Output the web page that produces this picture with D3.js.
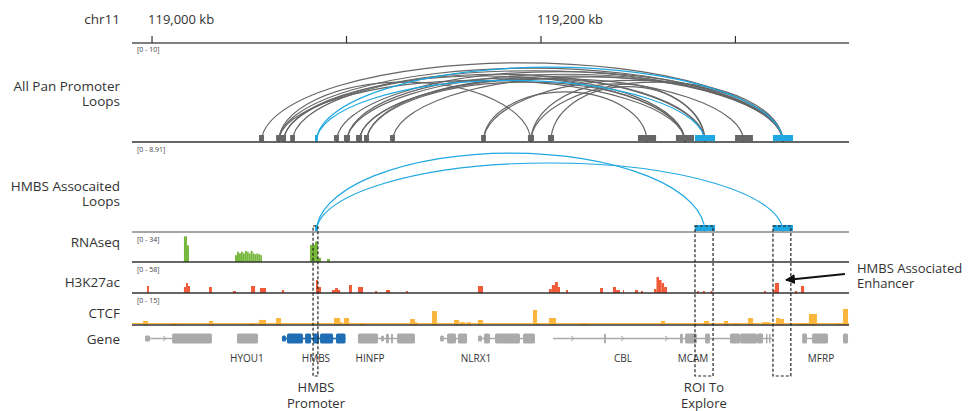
<!DOCTYPE html>
<html>
<head>
<meta charset="utf-8">
<script src="https://cdn.jsdelivr.net/npm/d3@7"></script>
<style>
body{margin:0;background:#fff;}
svg text{font-family:"Open Sans",sans-serif;fill:#333;}
</style>
</head>
<body>
<svg width="968" height="411"></svg>
<script>
'use strict';

// genomic window, chr11 (kb)
var region = [118989.7, 119358.4];
var rulerTicks = [119000, 119100, 119200, 119300];
var rulerLabels = [119000, 119200];

// All Pan Promoter Loops [0 - 10]
var panAnchors = [
	[119055.0,119057.6],[119063.8,119066.3],[119066.3,119068.9],[119071.0,119073.5],
	[119093.6,119096.1],[119098.7,119101.8],[119104.9,119108.0],[119109.0,119111.6],
	[119122.4,119124.9],[119169.2,119171.7],[119193.3,119196.4],[119203.6,119206.7],
	[119249.9,119259.2],[119269.4,119278.7],[119299.8,119309.0]
];
var panHmbsAnchors = [[119083.8,119085.3],[119279.2,119289.5],[119319.3,119329.6]];
var panLoops = [
	[119056.3,119324.4,9.0],[119065.1,119324.4,8.4],[119067.6,119324.4,8.1],
	[119065.1,119194.8,6.8],[119067.6,119274.0,7.5],[119065.1,119274.0,7.0],
	[119072.2,119284.3,7.7],[119094.9,119324.4,8.0],[119100.2,119274.0,7.3],
	[119100.2,119324.4,7.7],[119106.5,119304.4,7.2],[119106.5,119324.4,7.5],
	[119110.3,119274.0,6.8],[119110.3,119284.3,7.2],[119123.6,119324.4,7.4],
	[119170.4,119254.5,5.7],[119170.4,119324.4,7.0],[119194.8,119284.3,6.6],
	[119194.8,119324.4,6.8],[119205.1,119284.3,6.3]
];
var panHmbsLoops = [[119084.5,119324.4,8.5],[119084.5,119284.3,7.0]];

// HMBS Assocaited Loops [0 - 8.91]
var hmbsAnchors = [[119083.8,119085.3],[119279.2,119289.5],[119319.3,119329.6]];
var hmbsLoops = [[119084.5,119284.3,8.91],[119084.5,119324.4,7.78]];

// signal tracks [start kb, end kb, value]
var rnaseq = [
	[119016.4,119018.0,30],[119018.0,119019.0,19.5],
	[119042.7,119043.7,8],[119043.7,119044.7,12],[119044.7,119045.7,10],[119045.7,119046.7,12],
	[119046.7,119047.7,10],[119047.7,119048.7,13],[119048.7,119049.7,12],[119049.7,119050.7,10],
	[119050.7,119051.7,13],[119051.7,119052.7,10],[119052.7,119053.7,9],[119053.7,119054.7,10],
	[119054.7,119055.7,9],[119055.7,119056.5,8],
	[119081.2,119083.8,20],[119083.8,119085.3,24],[119085.3,119086.9,5],
	[119090.0,119091.5,3.5]
];
var h3k27ac = [
	[118997.4,118998.4,14],[119016.4,119017.5,12],[119017.5,119018.5,20],[119018.5,119019.5,14],
	[119029.3,119030.8,12],[119041.6,119043.2,4],[119050.9,119053.0,14],[119055.5,119058.6,10],
	[119066.8,119067.9,6],[119084.3,119085.3,26],[119085.3,119086.9,12],
	[119092.5,119094.1,6],[119094.1,119095.6,10],[119095.6,119096.7,6],
	[119101.3,119102.8,16],[119105.9,119108.5,12],[119114.7,119115.7,4],[119120.3,119122.4,6],
	[119130.6,119131.6,4],[119167.6,119170.2,14],
	[119204.1,119205.6,8],[119205.6,119207.2,16],[119207.2,119208.7,22],[119208.7,119209.8,12],
	[119212.9,119213.9,6],[119230.4,119231.9,10],[119237.0,119238.6,12],[119238.6,119240.6,6],
	[119242.2,119242.7,6],[119248.4,119249.9,6],[119251.4,119252.5,4],
	[119258.1,119259.4,8],[119259.4,119260.7,32],[119260.7,119262.0,26],[119262.0,119263.3,20],
	[119263.3,119264.8,12],[119280.2,119281.2,4],[119283.3,119284.3,4],[119287.2,119288.2,4],
	[119314.7,119315.7,4],[119319.3,119320.3,6],[119320.3,119322.4,20],[119330.6,119331.7,4],
	[119333.7,119335.3,14]
];
var ctcf = [
	[118995.4,118997.9,2.1],[119010.3,119012.8,1.0],[119029.3,119031.4,2.1],[119050.4,119053.0,1.0],
	[119055.0,119058.6,2.6],[119063.8,119066.3,3.6],[119093.6,119096.7,3.6],[119096.7,119097.7,1.5],
	[119098.7,119101.3,3.6],[119106.9,119109.0,1.0],[119132.7,119135.2,3.1],[119135.2,119136.3,1.5],
	[119144.0,119146.5,7.2],[119155.3,119157.9,2.6],[119158.4,119160.9,1.5],[119162.0,119164.0,1.5],
	[119167.6,119170.2,2.6],[119195.9,119198.0,7.8],[119198.0,119199.5,1.0],[119204.1,119207.7,3.6],
	[119221.1,119223.2,1.0],[119261.7,119263.8,2.1],[119278.2,119280.2,1.0],[119283.8,119286.4,2.1],
	[119294.1,119296.2,2.1],[119298.8,119301.3,1.0],[119306.5,119309.0,3.6],[119313.7,119317.8,1.5],
	[119320.9,119322.9,3.6],[119322.9,119325.0,3.1],[119332.2,119337.8,1.0],[119337.8,119341.9,5.7],
	[119352.7,119354.8,1.0],[119355.3,119357.9,8.3]
];

// gene track
var geneLines = [
	[118999.0,119010.3],[119066.8,119098.2],[119105.9,119135.2],[119148.1,119162.0],
	[119167.6,119196.9],[119206.2,119318.8],[119336.8,119339.4]
];
var geneThin = [
	[118996.4,118999.0],[119117.7,119119.3],[119148.1,119150.1],[119167.6,119169.7]
];
var geneThick = [
	[119010.3,119030.8],[119043.7,119054.5],[119105.9,119116.2],[119120.3,119121.8],
	[119122.9,119123.9],[119126.0,119135.2],[119151.7,119156.3],[119157.3,119162.0],
	[119170.7,119173.8],[119176.4,119189.2],[119190.8,119196.9],[119232.4,119233.4],
	[119271.5,119273.0],[119274.1,119280.2],[119284.4,119286.9],[119297.2,119302.4],
	[119302.4,119311.1],[119311.1,119314.2],[119315.7,119316.2],[119317.3,119317.8],
	[119334.3,119336.8],[119339.4,119347.6],[119355.3,119357.9]
];
var hmbsThin = [[119066.8,119068.9]];
var hmbsThick = [
	[119069.4,119077.6],[119078.7,119081.8],[119082.8,119085.9],[119086.4,119093.1],[119094.6,119099.5]
];
var strandArrows = [119006.7, 119216.5, 119242.2, 119264.8];
var geneNames = ["HYOU1", "HMBS", "HINFP", "NLRX1", "CBL", "MCAM", "MFRP"];
var geneNamePos = [119048.8, 119084.3, 119112.1, 119166.6, 119242.2, 119278.2, 119344.0];

// regions of interest (dashed boxes)
var roiBoxes = [[119082.8,119085.3],[119279.2,119288.5],[119319.3,119328.5]];
var enhancerArrow = [119356.3, 119326.0];

var svg = d3.select("svg");
var x = d3.scaleLinear().domain(region).range([132, 849]);
var grey = "#666666", blue = "#1ea7e1";

function label(lines, y0) {
	var t = svg.append("text").attr("text-anchor", "end").style("font-size", "13.5px");
	lines.forEach(function(l, i) {
		t.append("tspan").attr("x", 120).attr("y", y0 + i * 15).text(l);
	});
}
function range(txt, y) {
	svg.append("text").attr("x", 137).attr("y", y).style("font-size", "7px").style("fill", "#444").text(txt);
}
function baseline(y, col, w) {
	svg.append("line").attr("x1", 132).attr("x2", 849).attr("y1", y).attr("y2", y)
		.attr("stroke", col).attr("stroke-width", w);
}

// ruler
label(["chr11"], 24);
svg.append("line").attr("x1", 132).attr("x2", 849).attr("y1", 43).attr("y2", 43)
	.attr("stroke", "#555").attr("stroke-width", 1.5);
svg.selectAll(".tick").data(rulerTicks).enter().append("line")
	.attr("x1", function(d) { return x(d); }).attr("x2", function(d) { return x(d); })
	.attr("y1", 36).attr("y2", 43).attr("stroke", "#333").attr("stroke-width", 1.2);
svg.selectAll(".rlab").data(rulerLabels).enter().append("text")
	.attr("x", function(d) { return x(d) - 4; }).attr("y", 24)
	.style("font-size", "13px")
	.text(function(d) { return d3.format(",")(d) + " kb"; });

// loop tracks
function arc(d, base, ys) {
	var x1 = x(d[0]), x2 = x(d[1]), h = base - ys(d[2]);
	return "M" + x1 + "," + base + " A" + (x2 - x1) / 2 + "," + h + " 0 0 1 " + x2 + "," + base;
}
function loops(data, base, ys, col) {
	svg.append("g").selectAll("path").data(data).enter().append("path")
		.attr("d", function(d) { return arc(d, base, ys); })
		.attr("fill", "none").attr("stroke", col).attr("stroke-width", 1.2);
}
function anchors(data, base, col) {
	svg.append("g").selectAll("rect").data(data).enter().append("rect")
		.attr("x", function(d) { return x(d[0]); })
		.attr("width", function(d) { return Math.max(2, x(d[1]) - x(d[0])); })
		.attr("y", base - 7).attr("height", 6).attr("fill", col);
}

label(["All Pan Promoter", "Loops"], 91);
range("[0 - 10]", 52);
var y1 = d3.scaleLinear().domain([0, 10]).range([142, 54]);
loops(panLoops, 142, y1, grey);
loops(panHmbsLoops, 142, y1, blue);
anchors(panAnchors, 142, grey);
anchors(panHmbsAnchors, 142, blue);
baseline(142, "#333", 1.5);

label(["HMBS Assocaited", "Loops"], 191);
range("[0 - 8.91]", 152);
var y2 = d3.scaleLinear().domain([0, 8.91]).range([232, 153]);
loops(hmbsLoops, 232, y2, blue);
anchors(hmbsAnchors, 232, blue);
baseline(232, "#888", 1.5);

// signal tracks
function bars(data, max, base, col) {
	var ys = d3.scaleLinear().domain([0, max]).range([base, base - 29]);
	svg.append("g").selectAll("rect").data(data).enter().append("rect")
		.attr("x", function(d) { return x(d[0]); })
		.attr("width", function(d) { return Math.max(1, x(d[1]) - x(d[0])); })
		.attr("y", function(d) { return ys(d[2]); })
		.attr("height", function(d) { return base - ys(d[2]); })
		.attr("fill", col);
}
label(["RNAseq"], 247);
range("[0 - 34]", 242);
bars(rnaseq, 34, 262, "#76b83c");
baseline(262, "#333", 1.5);

label(["H3K27ac"], 287);
range("[0 - 58]", 272);
bars(h3k27ac, 58, 293, "#f05a38");
baseline(293, "#333", 1.5);

label(["CTCF"], 318);
range("[0 - 15]", 303);
bars(ctcf, 15, 325, "#fbb43c");
baseline(323.5, "#fbb43c", 1);
baseline(325, "#333", 1.5);

// genes
label(["Gene"], 344);
var gy = 338.5;
function segs(data, h, col) {
	svg.append("g").selectAll("rect").data(data).enter().append("rect")
		.attr("x", function(d) { return x(d[0]); })
		.attr("width", function(d) { return Math.max(1.5, x(d[1]) - x(d[0])); })
		.attr("y", gy - h / 2).attr("height", h).attr("rx", 1.5).attr("fill", col);
}
svg.append("g").selectAll("line").data(geneLines).enter().append("line")
	.attr("x1", function(d) { return x(d[0]); }).attr("x2", function(d) { return x(d[1]); })
	.attr("y1", gy).attr("y2", gy).attr("stroke", "#aaa").attr("stroke-width", 1.5);
svg.append("line").attr("x1", x(hmbsThin[0][0])).attr("x2", x(hmbsThick[4][1]))
	.attr("y1", gy).attr("y2", gy).attr("stroke", "#1f6db4").attr("stroke-width", 1.5);
svg.append("g").selectAll("path").data(strandArrows).enter().append("path")
	.attr("d", function(d) { return "M" + (x(d) - 2) + "," + (gy - 2.5) + " L" + (x(d) + 1) + "," + gy + " L" + (x(d) - 2) + "," + (gy + 2.5); })
	.attr("fill", "none").attr("stroke", "#aaa").attr("stroke-width", 1);
segs(geneThin, 6, "#aaa");
segs(geneThick, 10, "#aaa");
segs(hmbsThin, 6, "#1f6db4");
segs(hmbsThick, 10, "#1f6db4");
svg.selectAll(".gname").data(geneNames).enter().append("text")
	.attr("x", function(d, i) { return x(geneNamePos[i]); }).attr("y", 362)
	.attr("text-anchor", "middle").style("font-size", "10px")
	.text(function(d) { return d; });

// dashed ROI boxes
svg.append("g").selectAll("rect").data(roiBoxes).enter().append("rect")
	.attr("x", function(d) { return x(d[0]); })
	.attr("width", function(d) { return x(d[1]) - x(d[0]); })
	.attr("y", 226).attr("height", 150)
	.attr("fill", "none").attr("stroke", "#222").attr("stroke-width", 1.2)
	.attr("stroke-dasharray", "3,2");

function note(lines, cx, y0) {
	var t = svg.append("text").attr("text-anchor", "middle").style("font-size", "13px");
	lines.forEach(function(l, i) {
		t.append("tspan").attr("x", cx).attr("y", y0 + i * 15.5).text(l);
	});
}
note(["HMBS", "Promoter"], x(119084.3), 392);
note(["ROI To", "Explore"], x(119283.8), 392);

// enhancer annotation
svg.append("defs").append("marker").attr("id", "ah")
	.attr("viewBox", "0 0 10 10").attr("refX", 9).attr("refY", 5)
	.attr("markerWidth", 5).attr("markerHeight", 5).attr("orient", "auto")
	.append("path").attr("d", "M0,0 L10,5 L0,10 z").attr("fill", "#111");
svg.append("line").attr("x1", x(enhancerArrow[0])).attr("y1", 274)
	.attr("x2", x(enhancerArrow[1])).attr("y2", 280)
	.attr("stroke", "#111").attr("stroke-width", 2).attr("marker-end", "url(#ah)");
var et = svg.append("text").style("font-size", "13px");
et.append("tspan").attr("x", 857).attr("y", 273).text("HMBS Associated");
et.append("tspan").attr("x", 857).attr("y", 288).text("Enhancer");
</script>
</body>
</html>
